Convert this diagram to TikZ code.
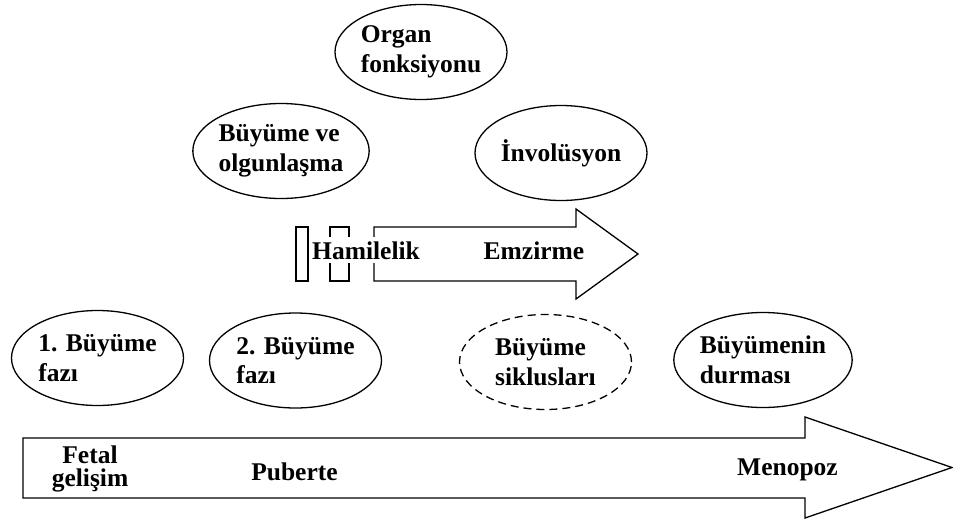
\documentclass[tikz,border=0pt]{standalone}
\usepackage{fontspec}
\setmainfont{Liberation Serif}
\usetikzlibrary{shapes.geometric}
\tikzset{
  ell/.style={draw, ellipse, line width=1.3pt, minimum width=172pt, minimum height=95pt,
    inner sep=0pt, align=left, font=\bfseries\fontsize{25.5}{29.5}\selectfont},
  lbl/.style={font=\bfseries\fontsize{25.5}{29.5}\selectfont, inner sep=0pt},
  outl/.style={draw, line width=1.3pt, line join=miter}
}
\begin{document}
\begin{tikzpicture}[x=1pt,y=-1pt]
\useasboundingbox (0,0) rectangle (953,520);

% top ellipses
\node[ell] (organ) at (421,52) {Organ\\fonksiyonu};
\node[ell] (buyve) at (281,151) {Büyüme ve\\olgunlaşma};
\node[ell] (invol) at (561,153) {İnvolüsyon};

% middle arrow and bars
\draw[outl] (374,227) -- (576,227) -- (576,209) -- (638,254) -- (576,299) -- (576,281) -- (374,281) -- cycle;
\draw[outl] (296,227) rectangle (308,281);
\draw[outl] (330,227) rectangle (349,281);
\node[lbl, fill=white, inner xsep=1pt, inner ysep=4pt, anchor=base] (hamil) at (366,259) {Hamilelik};
\node[lbl, anchor=base] (emz) at (534,259) {Emzirme};

% bottom ellipses
\node[ell] (faz1) at (97.5,358) {1. Büyüme\\fazı};
\node[ell] (faz2) at (295.5,360.5) {2. Büyüme\\fazı};
\node[ell, dash pattern=on 8pt off 5pt] (siklus) at (545.5,362) {Büyüme\\siklusları};
\node[ell] (durma) at (763,360) {Büyümenin\\durması};

% bottom arrow
\draw[outl] (23,438) -- (805,438) -- (805,417) -- (952,467.5) -- (805,518) -- (805,498) -- (23,498) -- cycle;
\node[lbl, anchor=base] (fetal) at (90,463) {Fetal};
\node[lbl, anchor=base] (gelisim) at (90,486) {gelişim};
\node[lbl, anchor=base] (puberte) at (294.5,480) {Puberte};
\node[lbl, anchor=base] (menopoz) at (787.5,475) {Menopoz};
\end{tikzpicture}
\end{document}
